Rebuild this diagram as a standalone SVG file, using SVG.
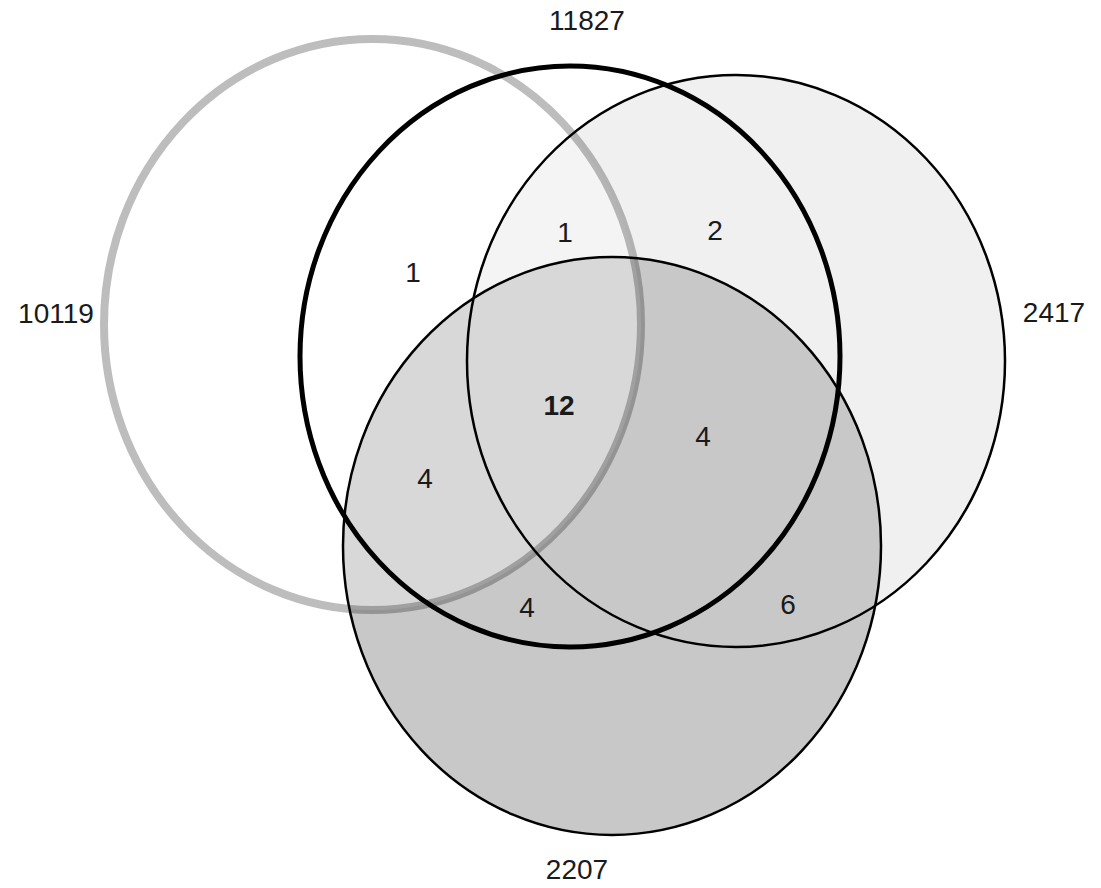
<svg xmlns="http://www.w3.org/2000/svg" width="1101" height="888" viewBox="0 0 1101 888">
<style>
.lbl{font-family:"Liberation Sans",Arial,sans-serif;font-size:28px;fill:#1a1a1a;text-anchor:middle}
.b{font-weight:bold}
.thin{fill:none;stroke:#000;stroke-width:2.5}
</style>
<rect width="1101" height="888" fill="#fff"/>
<g id="fills">
<ellipse cx="736" cy="361" rx="269" ry="286" fill="#f0f0f0"/>
<ellipse cx="612" cy="546" rx="269" ry="289" fill="#c8c8c8"/>
<ellipse cx="372.5" cy="324.5" rx="268.5" ry="285.5" fill="#fff" fill-opacity="0.3"/>
</g>
<g id="set-2417"><ellipse class="thin" cx="736" cy="361" rx="269" ry="286"/><text class="lbl" x="1054" y="322">2417</text></g>
<g id="set-2207"><ellipse class="thin" cx="612" cy="546" rx="269" ry="289"/><text class="lbl" x="577" y="879">2207</text></g>
<g id="set-11827"><ellipse cx="570" cy="356.5" rx="270" ry="290.5" fill="none" stroke="#000" stroke-width="5"/><text class="lbl" x="587" y="30">11827</text></g>
<g id="set-10119"><ellipse cx="372.5" cy="324.5" rx="268.5" ry="285.5" fill="none" stroke="#000" stroke-opacity="0.26" stroke-width="8"/><text class="lbl" x="56" y="323">10119</text></g>
<g id="counts">
<text class="lbl" x="413" y="282">1</text>
<text class="lbl" x="565" y="242">1</text>
<text class="lbl" x="715" y="240">2</text>
<text class="lbl b" x="559" y="415">12</text>
<text class="lbl" x="703" y="446">4</text>
<text class="lbl" x="425" y="488">4</text>
<text class="lbl" x="527" y="617">4</text>
<text class="lbl" x="788" y="614">6</text>
</g>
</svg>
